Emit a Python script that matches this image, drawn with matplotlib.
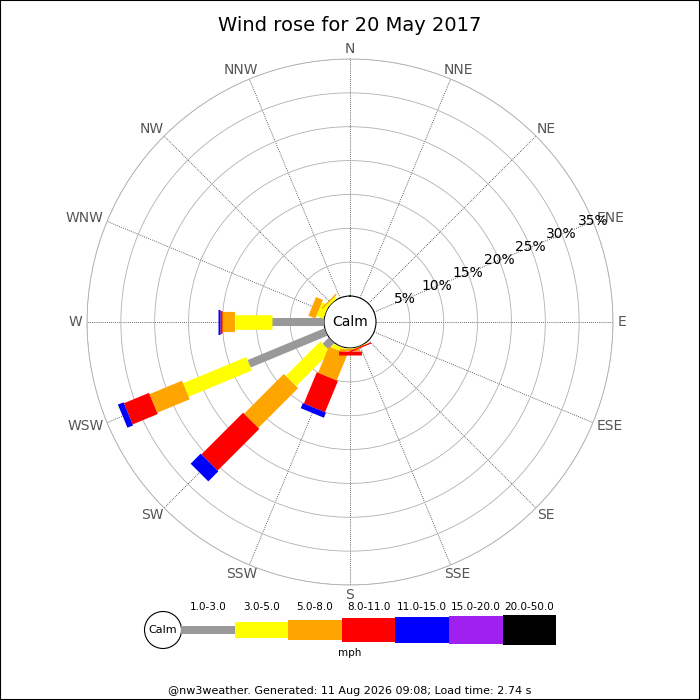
import numpy as np
import matplotlib
matplotlib.use('Agg')
import matplotlib.pyplot as plt
from matplotlib.patches import Rectangle, Circle

# directions, clockwise from north
dirs = ['N', 'NNE', 'NE', 'ENE', 'E', 'ESE', 'SE', 'SSE',
        'S', 'SSW', 'SW', 'WSW', 'W', 'WNW', 'NW', 'NNW']

# % of time in each speed band, per direction
s_1_3   = [0, 0, 0, 0, 0, 0, 0, 0,   0,   0.1, 1.3, 12.3, 7.7, 0,   0,   0]
s_3_5   = [0, 0, 0, 0, 0, 0, 0, 0.1, 0.2, 0.6, 7.2, 10.1, 5.4, 1.1, 0.4, 0]
s_5_8   = [0, 0, 0, 0, 0, 0, 0, 0,   0.2, 4.2, 8.3, 5.2,  2.0, 1.1, 0.2, 0]
s_8_11  = [0, 0, 0, 0, 0, 0, 0, 0.2, 0.7, 5.0, 8.7, 4.0,  0.3, 0,   0,   0]
s_11_15 = [0, 0, 0, 0, 0, 0, 0, 0,   0,   0.8, 2.1, 0.9,  0.2, 0,   0,   0]
s_15_20 = [0] * 16
s_20_50 = [0] * 16

bands = ['1.0-3.0', '3.0-5.0', '5.0-8.0', '8.0-11.0', '11.0-15.0', '15.0-20.0', '20.0-50.0']
colours = ['#999999', '#ffff00', '#ffa500', '#ff0000', '#0000ff', '#a020f0', '#000000']
widths = [5.8, 10.5, 14.5, 16.5, 18, 19.5, 21]   # bar thickness, points

rings = [5, 10, 15, 20, 25, 30, 35]

data = np.array([s_1_3, s_3_5, s_5_8, s_8_11, s_11_15, s_15_20, s_20_50])
cum = np.cumsum(data, axis=0)
start = cum - data

fig = plt.figure(figsize=(7, 7), dpi=100)
ax = fig.add_axes([87/700, 115/700, 526/700, 526/700], projection='polar')
ax.set_theta_zero_location('N')
ax.set_theta_direction(-1)
ax.set_ylim(0, 35)
ax.set_rorigin(-3.84)

bearing = np.arange(16) * 22.5
theta = np.radians(bearing)

for k in range(len(bands)):
    for i in range(16):
        if data[k, i] > 0:
            ax.plot([theta[i], theta[i]], [start[k, i], cum[k, i]],
                    color=colours[k], lw=widths[k], solid_capstyle='butt', zorder=3)

ax.set_thetagrids(bearing, [''] * 16)
ax.set_yticks(rings)
ax.set_yticklabels([])
ax.yaxis.grid(True, color='#b0b0b0', lw=0.6, ls='-')
ax.xaxis.grid(True, color='#333333', lw=0.6, ls=(0, (1, 1.5)))
ax.spines['polar'].set_color('#b0b0b0')
ax.spines['polar'].set_linewidth(0.6)
ax.spines['inner'].set_color('black')
ax.spines['inner'].set_linewidth(0.8)

# compass labels just outside the outer ring
renderer = fig.canvas.get_renderer()
for i, d in enumerate(dirs):
    a = ax.annotate(d, xy=(theta[i], 35), xytext=(0, 0), textcoords='offset points',
                    ha='center', va='center', color='#555555', fontsize=10,
                    annotation_clip=False)
    bb = a.get_window_extent(renderer)
    ox = np.sin(theta[i]) * (bb.width / 2 + 5)
    oy = np.cos(theta[i]) * (bb.height / 2 + 3)
    a.xyann = (ox * 0.72, oy * 0.72)

for r in rings:
    ax.text(np.radians(67.5), r, f'{r}%', ha='center', va='center', fontsize=10, zorder=4)

ax.text(0.5, 0.5, 'Calm', transform=ax.transAxes, ha='center', va='center', fontsize=10)

fig.suptitle('Wind rose for 20 May 2017', y=0.977, fontsize=14)

# legend strip at the bottom, in pixel units
lg = fig.add_axes([0, 0, 1, 1], facecolor='none')
lg.set_xlim(0, 700)
lg.set_ylim(700, 0)
lg.axis('off')
lg.add_patch(Circle((163, 630), 18.5, fill=False, edgecolor='black', lw=0.8))
lg.text(163, 630, 'Calm', ha='center', va='center', fontsize=8)
x0, step = 181, 53.6
for k, b in enumerate(bands):
    h = widths[k] / 0.72 + 0.5
    lg.add_patch(Rectangle((x0 + k * step, 630 - h / 2), step, h, color=colours[k], lw=0))
    lg.text(x0 + (k + 0.5) * step, 607, b, ha='center', va='center', fontsize=7.5)
lg.text(350, 653, 'mph', ha='center', va='center', fontsize=7.5)
lg.text(350, 691, '@nw3weather. Generated: 11 Aug 2026 09:08; Load time: 2.74 s',
        ha='center', va='center', fontsize=8)

fig.patches.append(Rectangle((0, 0), 1, 1, transform=fig.transFigure, fill=False,
                             edgecolor='black', lw=1.5))

fig.savefig('out.png', dpi=100)
